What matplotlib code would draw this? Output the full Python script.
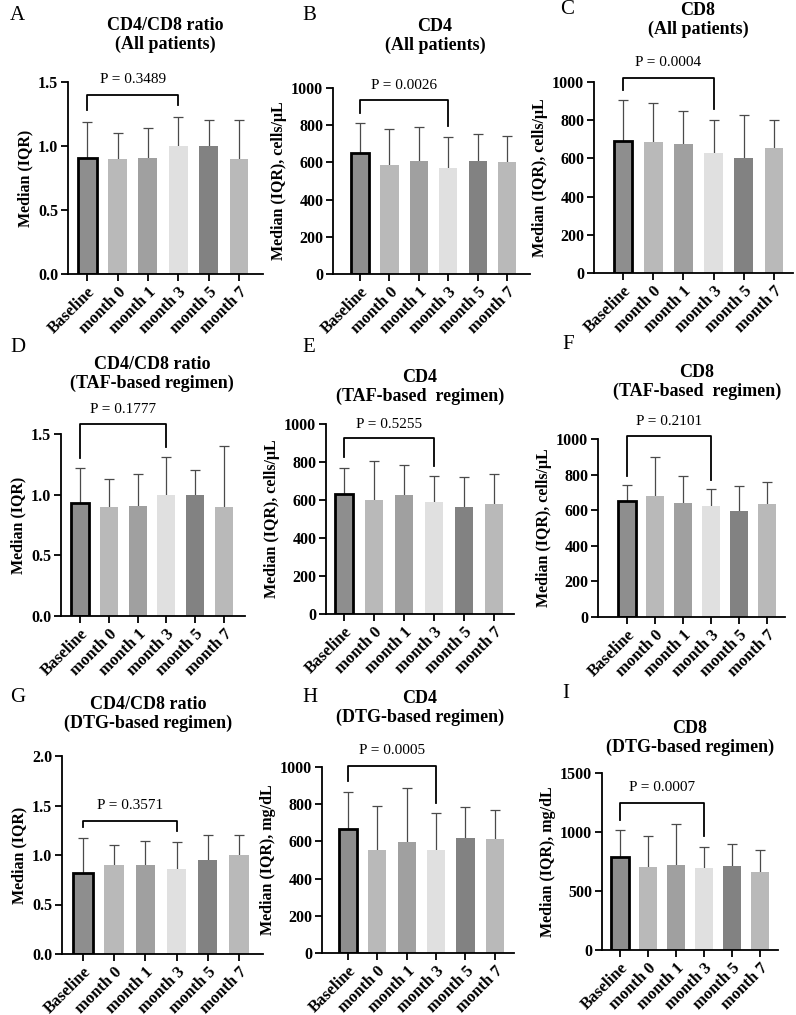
import numpy as np
import matplotlib
matplotlib.use("Agg")
import matplotlib.pyplot as plt

plt.rcParams["font.family"] = ["Liberation Serif", "DejaVu Serif"]

W, H = 796, 1015

labels = ["Baseline", "month 0", "month 1", "month 3", "month 5", "month 7"]
bar_colors = ["#8e8e8e", "#b9b9b9", "#a0a0a0", "#e0e0e0", "#828282", "#b9b9b9"]

# medians and upper quartiles
ratio_all_med = [0.91, 0.90, 0.91, 1.00, 1.00, 0.90]
ratio_all_q3 = [1.19, 1.10, 1.14, 1.23, 1.20, 1.20]
cd4_all_med = [653, 587, 605, 569, 609, 600]
cd4_all_q3 = [813, 779, 790, 737, 752, 742]
cd8_all_med = [689, 686, 674, 630, 604, 654]
cd8_all_q3 = [904, 890, 846, 803, 825, 803]
ratio_taf_med = [0.93, 0.90, 0.91, 1.00, 1.00, 0.90]
ratio_taf_q3 = [1.22, 1.13, 1.17, 1.31, 1.20, 1.40]
cd4_taf_med = [632, 600, 625, 590, 561, 580]
cd4_taf_q3 = [768, 803, 786, 726, 719, 735]
cd8_taf_med = [650, 681, 640, 625, 597, 634]
cd8_taf_q3 = [739, 899, 794, 717, 734, 757]
ratio_dtg_med = [0.82, 0.90, 0.90, 0.86, 0.95, 1.00]
ratio_dtg_q3 = [1.17, 1.10, 1.14, 1.13, 1.20, 1.20]
cd4_dtg_med = [665, 552, 596, 552, 620, 615]
cd4_dtg_q3 = [866, 790, 886, 754, 786, 770]
cd8_dtg_med = [789, 705, 719, 699, 708, 660]
cd8_dtg_q3 = [1015, 967, 1071, 877, 902, 851]

p_values = ["0.3489", "0.0026", "0.0004", "0.1777", "0.5255",
            "0.2101", "0.3571", "0.0005", "0.0007"]

PANELS = [
    # letter, title, ylabel, med, q3, ymax, ystep, fmt,
    # axes box px (x0, x1, ytop, ybottom), xlim, bracket (top, left, right, ptext),
    # letter pos, title pos
    ("A", "CD4/CD8 ratio\n(All patients)", "Median (IQR)", ratio_all_med, ratio_all_q3,
     1.5, 0.5, "{:.1f}", (68, 263, 82, 274), (-0.63, 5.79), (1.40, 1.28, 1.32, 1.52),
     (10, 15), (165, 35)),
    ("B", "CD4\n(All patients)", "Median (IQR), cells/μL", cd4_all_med, cd4_all_q3,
     1000, 200, "{:.0f}", (333, 530, 88, 274), (-0.92, 5.78), (937, 865, 794, 1013),
     (302, 15), (435, 36)),
    ("C", "CD8\n(All patients)", "Median (IQR), cells/μL", cd8_all_med, cd8_all_q3,
     1000, 200, "{:.0f}", (594, 793, 82, 273), (-0.96, 5.63), (1021, 960, 857, 1101),
     (560, 9), (698, 20)),
    ("D", "CD4/CD8 ratio\n(TAF-based regimen)", "Median (IQR)", ratio_taf_med, ratio_taf_q3,
     1.5, 0.5, "{:.1f}", (61, 245, 434, 616), (-0.66, 5.73), (1.58, 1.305, 1.39, 1.70),
     (10, 348), (152, 374)),
    ("E", "CD4\n(TAF-based  regimen)", "Median (IQR), cells/μL", cd4_taf_med, cd4_taf_q3,
     1000, 200, "{:.0f}", (326, 514, 424, 614), (-0.6, 5.67), (926, 825, 781, 1000),
     (302, 348), (420, 387)),
    ("F", "CD8\n(TAF-based  regimen)", "Median (IQR), cells/μL", cd8_taf_med, cd8_taf_q3,
     1000, 200, "{:.0f}", (598, 785, 439, 617), (-1.04, 5.64), (1017, 792, 769, 1098),
     (562, 345), (697, 382)),
    ("G", "CD4/CD8 ratio\n(DTG-based regimen)", "Median (IQR)", ratio_dtg_med, ratio_dtg_q3,
     2.0, 0.5, "{:.1f}", (62, 263, 756, 954), (-0.67, 5.77), (1.342, 1.285, 1.245, 1.497),
     (10, 697), (148, 714)),
    ("H", "CD4\n(DTG-based regimen)", "Median (IQR), mg/dL", cd4_dtg_med, cd4_dtg_q3,
     1000, 200, "{:.0f}", (322, 514, 767, 953), (-0.88, 5.65), (1004, 925, 808, 1088),
     (302, 697), (420, 708)),
    ("I", "CD8\n(DTG-based regimen)", "Median (IQR), mg/dL", cd8_dtg_med, cd8_dtg_q3,
     1500, 500, "{:.0f}", (602, 778, 773, 950), (-0.64, 5.64), (1249, 1099, 967, 1373),
     (562, 693), (690, 738)),
]


def draw_panel(fig, spec, pval):
    """ Draw one Prism-like median bar panel. """
    (letter, title, ylabel, med, q3, ymax, ystep, fmt,
     box, xlim, bracket, letter_pos, title_pos) = spec
    x0, x1, yt, yb = box
    ax = fig.add_axes([x0 / W, 1 - yb / H, (x1 - x0) / W, (yb - yt) / H])

    x = np.arange(len(labels))
    med = np.asarray(med)
    up = np.asarray(q3) - med
    ax.bar(x, med, width=0.62, color=bar_colors, edgecolor="none", zorder=2)
    ax.bar(x[:1], med[:1], width=0.62, color="none", edgecolor="black",
           linewidth=2.0, zorder=3)
    _, caps, _ = ax.errorbar(x, med, yerr=[np.zeros_like(up), up], fmt="none",
                             ecolor="#4a4a4a", elinewidth=0.9, capsize=3.5,
                             capthick=0.9, zorder=1)
    caps[0].set_visible(False)

    top, left, right, ptext = bracket
    ax.plot([0, 0, 3, 3], [left, top, top, right], color="black",
            linewidth=1.3, clip_on=False, zorder=4)
    ax.text(1.5, ptext, f"P = {pval}", ha="center", va="center",
            fontsize=11, clip_on=False)

    ax.set_xlim(*xlim)
    ax.set_ylim(0, ymax)
    ticks = np.arange(0, ymax + ystep / 2, ystep)
    ax.set_yticks(ticks)
    ax.set_yticklabels([fmt.format(t) for t in ticks], fontweight="bold", fontsize=11.5)
    ax.set_xticks(x)
    ax.set_xticklabels(labels, rotation=45, ha="right", rotation_mode="anchor",
                       fontweight="bold", fontsize=12)
    ax.tick_params(direction="out", length=5, width=1.3, pad=2)
    for s in ("top", "right"):
        ax.spines[s].set_visible(False)
    for s in ("left", "bottom"):
        ax.spines[s].set_linewidth(1.3)
    ax.set_ylabel(ylabel, fontweight="bold", fontsize=11.5, labelpad=3)

    fig.text(letter_pos[0] / W, 1 - letter_pos[1] / H, letter, fontsize=15,
             ha="left", va="center")
    fig.text(title_pos[0] / W, 1 - title_pos[1] / H, title, fontsize=13,
             fontweight="bold", ha="center", va="center", linespacing=1.1)
    return ax


fig = plt.figure(figsize=(W / 100, H / 100), dpi=100)
for spec, pval in zip(PANELS, p_values):
    draw_panel(fig, spec, pval)

fig.savefig("out.png", dpi=100)
